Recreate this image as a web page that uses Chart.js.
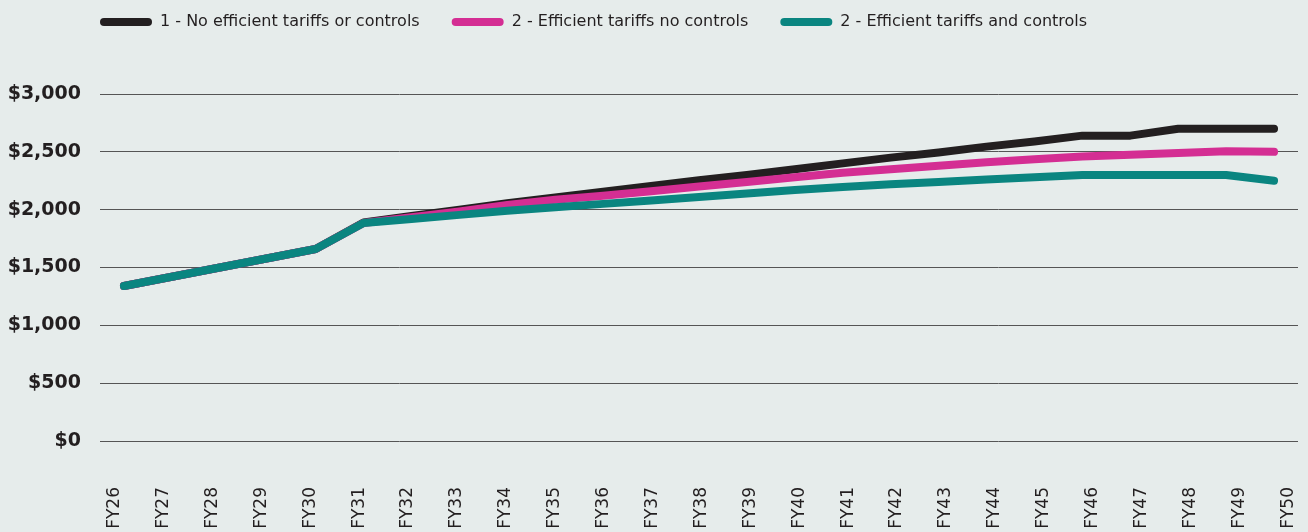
<!DOCTYPE html>
<html>
<head>
<meta charset="utf-8">
<script src="https://cdn.jsdelivr.net/npm/chart.js@4/dist/chart.umd.min.js"></script>
<style>
  html, body { margin: 0; padding: 0; background: #e6eceb; }
  #wrap { width: 1308px; height: 532px; position: relative; }
</style>
</head>
<body>
<div id="wrap"><canvas id="bill-chart"></canvas></div>
<script>
const years = ['FY26','FY27','FY28','FY29','FY30','FY31','FY32','FY33','FY34','FY35','FY36','FY37','FY38',
               'FY39','FY40','FY41','FY42','FY43','FY44','FY45','FY46','FY47','FY48','FY49','FY50'];

const noTariffsNoControls = [1340,1420,1500,1580,1660,1890,1945,2000,2055,2105,2155,2205,2255,
                             2300,2350,2400,2450,2495,2545,2590,2640,2640,2700,2700,2700];
const tariffsNoControls   = [1340,1420,1500,1580,1660,1885,1935,1985,2040,2085,2120,2160,2200,
                             2240,2280,2320,2350,2380,2410,2435,2460,2475,2490,2505,2500];
const tariffsAndControls  = [1340,1420,1500,1580,1660,1885,1920,1955,1990,2020,2050,2080,2110,
                             2140,2170,2195,2220,2240,2260,2280,2300,2300,2300,2300,2250];

const yTicks = [0, 500, 1000, 1500, 2000, 2500, 3000];

const ink = '#231f20';
const face = '"DejaVu Sans", sans-serif';

// legend sits top-left over the plot; reserve fixed space above the grid
const legendNudge = {
    id: 'legendNudge',
    beforeInit(chart) {
        const fit = chart.legend.fit;
        chart.legend.fit = function() {
            fit.call(this);
            this.height = 94;
        };
    },
    afterLayout(chart) {
        chart.legend.left = 68;
        chart.legend.top = -18;
    }
};

function lineSet(label, data, color, order){
    return {
        label: label,
        data: data,
        borderColor: color,
        backgroundColor: color,
        borderWidth: 8,
        borderCapStyle: 'round',
        borderJoinStyle: 'round',
        pointRadius: 0,
        tension: 0,
        order: order
    };
}

window.onload = () => {
    const context = document.getElementById('bill-chart').getContext('2d');
    new Chart(context, {
        type: 'line',
        data: {
            labels: years,
            datasets: [
                lineSet('1 - No efficient tariffs or controls', noTariffsNoControls, ink, 3),
                lineSet('2 - Efficient tariffs no controls', tariffsNoControls, '#d42e93', 2),
                lineSet('2 - Efficient tariffs and controls', tariffsAndControls, '#0a8580', 1)
            ]
        },
        plugins: [legendNudge],
        options: {
            responsive: true,
            maintainAspectRatio: false,
            animation: false,
            layout: { padding: { top: 0, right: 10, bottom: 0, left: 0 } },
            plugins: {
                tooltip: { enabled: false },
                legend: {
                    display: true,
                    position: 'top',
                    align: 'start',
                    labels: {
                        boxWidth: 52,
                        boxHeight: 8,
                        useBorderRadius: true,
                        borderRadius: 4,
                        padding: 32,
                        color: ink,
                        font: { family: face, size: 16 },
                        sort: (a, b) => a.datasetIndex - b.datasetIndex,
                        generateLabels: (chart) => Chart.defaults.plugins.legend.labels.generateLabels(chart)
                            .map(item => Object.assign(item, { lineWidth: 0 }))
                    }
                }
            },
            scales: {
                // data axis: one slot per year, kept hidden
                x: {
                    offset: true,
                    display: false
                },
                // year labels, spread a little wider than the data slots
                years: {
                    type: 'linear',
                    position: 'bottom',
                    min: -0.3,
                    max: 24.2,
                    afterBuildTicks: (axis) => { axis.ticks = years.map((_, i) => ({ value: i })); },
                    afterFit: (axis) => {
                        axis.height = 91;
                        axis.paddingLeft = 0;
                        axis.paddingRight = 0;
                    },
                    grid: { display: false, drawTicks: false },
                    border: { display: false },
                    ticks: {
                        autoSkip: false,
                        minRotation: 90,
                        maxRotation: 90,
                        padding: 46,
                        color: ink,
                        font: { family: face, size: 17 },
                        callback: (v) => years[v]
                    }
                },
                y: {
                    min: 0,
                    max: 3000,
                    afterFit: (axis) => { axis.width = 100; },
                    afterBuildTicks: (axis) => { axis.ticks = yTicks.map(v => ({ value: v })); },
                    grid: { color: '#555555', lineWidth: 1, drawTicks: false },
                    border: { display: false },
                    ticks: {
                        padding: 19,
                        color: ink,
                        font: { family: face, size: 19, weight: 'bold' },
                        callback: (v) => '$' + v.toLocaleString('en-US')
                    }
                }
            }
        }
    });
};
</script>
</body>
</html>
